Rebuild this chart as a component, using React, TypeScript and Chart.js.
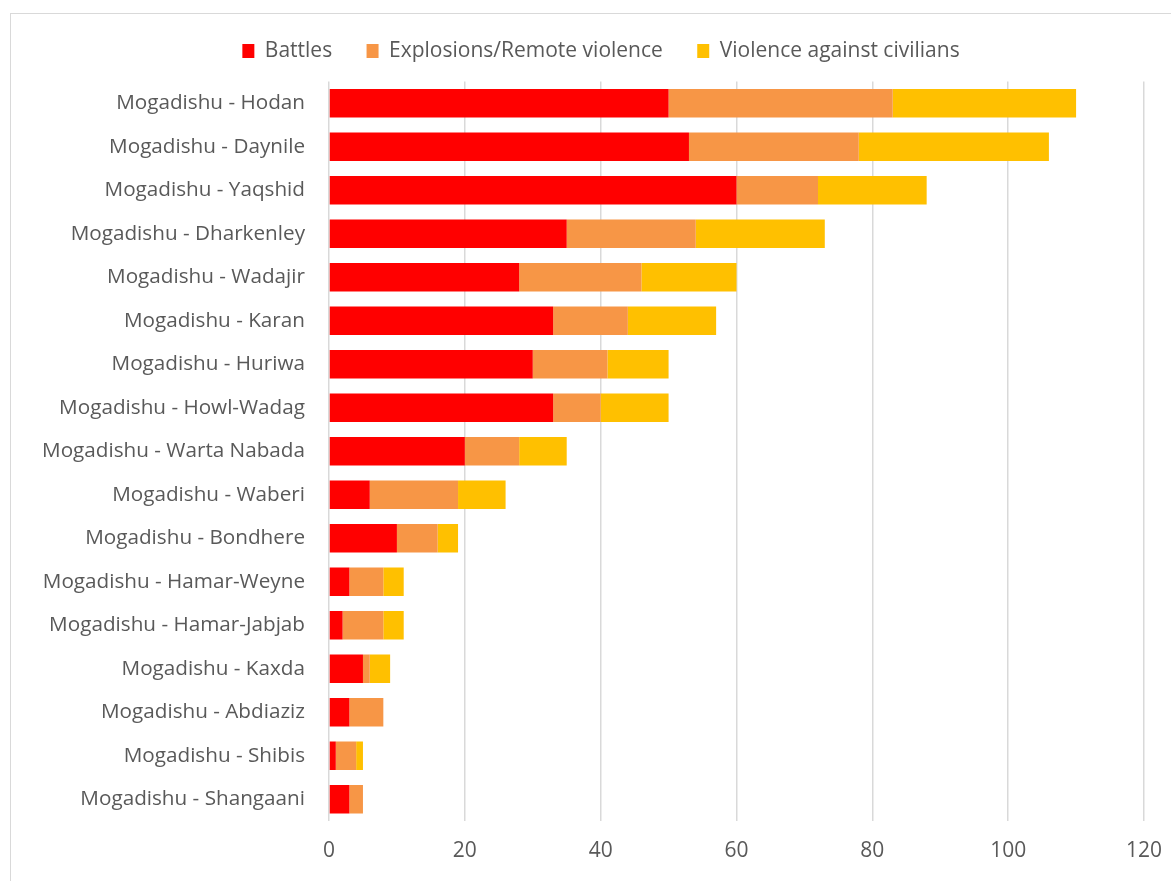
import React, { useEffect, useRef } from "react";
import { Chart, registerables } from "chart.js";

Chart.register(...registerables);

const categories = [
  "Mogadishu - Hodan",
  "Mogadishu - Daynile",
  "Mogadishu - Yaqshid",
  "Mogadishu - Dharkenley",
  "Mogadishu - Wadajir",
  "Mogadishu - Karan",
  "Mogadishu - Huriwa",
  "Mogadishu - Howl-Wadag",
  "Mogadishu - Warta Nabada",
  "Mogadishu - Waberi",
  "Mogadishu - Bondhere",
  "Mogadishu - Hamar-Weyne",
  "Mogadishu - Hamar-Jabjab",
  "Mogadishu - Kaxda",
  "Mogadishu - Abdiaziz",
  "Mogadishu - Shibis",
  "Mogadishu - Shangaani",
];

const battles = [50, 53, 60, 35, 28, 33, 30, 33, 20, 6, 10, 3, 2, 5, 3, 1, 3];
const explosions = [33, 25, 12, 19, 18, 11, 11, 7, 8, 13, 6, 5, 6, 1, 5, 3, 2];
const violenceCivilians = [27, 28, 16, 19, 14, 13, 9, 10, 7, 7, 3, 3, 3, 3, 0, 1, 0];

const seriesNames = ["Battles", "Explosions/Remote violence", "Violence against civilians"];
const xTicks = [0, 20, 40, 60, 80, 100, 120];

const FONT = "'Open Sans', sans-serif";
const TEXT = "#595959";
const GRID = "#d9d9d9";

export default function App() {
  const ref = useRef<HTMLCanvasElement | null>(null);

  useEffect(() => {
    if (!ref.current) return;
    const legendTweak = {
      id: "legendTweak",
      afterInit(chart: any) {
        const lg = chart.legend;
        if (!lg) return;
        const origFit = lg.fit.bind(lg);
        lg.fit = function () {
          origFit();
          this.height = 75.5;
        };
        const origDraw = lg.draw.bind(lg);
        lg.draw = function () {
          const ctx = chart.ctx;
          ctx.save();
          ctx.translate(23.5, 0);
          origDraw();
          ctx.restore();
        };
      },
    };
    const chart = new Chart(ref.current, {
      type: "bar",
      data: {
        labels: categories,
        datasets: [
          { label: seriesNames[0], data: battles, backgroundColor: "#FF0000" },
          { label: seriesNames[1], data: explosions, backgroundColor: "#F79646" },
          { label: seriesNames[2], data: violenceCivilians, backgroundColor: "#FFC000" },
        ],
      },
      options: {
        indexAxis: "y",
        responsive: false,
        animation: false,
        layout: { padding: { top: -8, left: 0, right: 27, bottom: 0 } },
        datasets: { bar: { barPercentage: 0.66, categoryPercentage: 1 } },
        plugins: {
          legend: {
            position: "top",
            align: "center",
            labels: {
              boxWidth: 12,
              boxHeight: 14,
              padding: 34.4,
              color: TEXT,
              font: { family: FONT, size: 21 },
            },
          },
          tooltip: { enabled: false },
        },
        scales: {
          x: {
            stacked: true,
            min: 0,
            max: 120,
            afterBuildTicks: (scale: any) => {
              scale.ticks = xTicks.map((v) => ({ value: v }));
            },
            afterFit: (scale: any) => {
              scale.height = 60;
              scale.paddingLeft = 0;
              scale.paddingRight = 0;
            },
            grid: { color: GRID, lineWidth: 1.5, drawTicks: false },
            border: { display: false },
            ticks: { color: TEXT, padding: 17, font: { family: FONT, size: 21 } },
          },
          y: {
            stacked: true,
            afterFit: (scale: any) => {
              scale.width = 318;
              scale.paddingTop = 0;
              scale.paddingBottom = 0;
            },
            grid: { display: false, drawTicks: false },
            border: { display: false },
            ticks: { color: TEXT, padding: 24, font: { family: FONT, size: 20.7 } },
          },
        },
      },
      plugins: [legendTweak],
    } as any);
    return () => chart.destroy();
  }, []);

  return (
    <div
      style={{
        position: "absolute",
        left: 10,
        top: 13,
        width: 1161,
        height: 868,
        boxSizing: "border-box",
        borderLeft: "1px solid #d9d9d9",
        borderTop: "1px solid #d9d9d9",
        background: "#fff",
      }}
    >
      <canvas ref={ref} width={1160} height={867} style={{ display: "block" }} />
    </div>
  );
}
